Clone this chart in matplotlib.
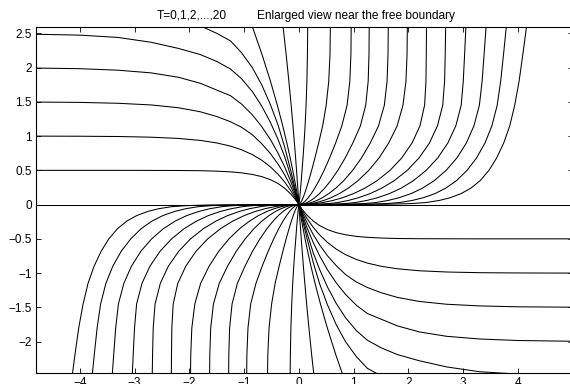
import matplotlib
matplotlib.use("Agg")
import matplotlib.pyplot as plt

plt.rcParams['font.family'] = ['Liberation Sans', 'DejaVu Sans']

# ---- data (upper half of every curve; each curve is odd: (x,y)->(-x,-y)) ----
# Curves T=1..6: y as a function of x on the left side (x<=0), from the left edge to the origin
X_LEFT = [-5.0, -4.0, -3.3, -2.7, -2.2, -1.8, -1.5, -1.25, -1.05, -0.85, -0.68, -0.52, -0.38, -0.26, -0.15, -0.07, 0.0]
Y_T1 = [0.5, 0.5, 0.5, 0.499, 0.498, 0.495, 0.488, 0.478, 0.464, 0.44, 0.409, 0.364, 0.307, 0.239, 0.156, 0.08, 0.0]
Y_T2 = [1.0, 0.998, 0.994, 0.984, 0.966, 0.937, 0.90, 0.854, 0.801, 0.73, 0.649, 0.551, 0.443, 0.33, 0.206, 0.102, 0.0]
Y_T3 = [1.498, 1.492, 1.479, 1.455, 1.414, 1.355, 1.286, 1.21, 1.13, 1.02, 0.89, 0.745, 0.59, 0.435, 0.268, 0.131, 0.0]
Y_T4 = [1.995, 1.984, 1.962, 1.923, 1.859, 1.771, 1.672, 1.59, 1.47, 1.31, 1.14, 0.95, 0.75, 0.55, 0.34, 0.165, 0.0]
Y_T5 = [2.49, 2.474, 2.44, 2.37, 2.28, 2.19, 2.09, 1.98, 1.84, 1.65, 1.44, 1.20, 0.95, 0.70, 0.42, 0.20, 0.0]
Y_T6 = [2.99, 2.97, 2.93, 2.86, 2.75, 2.61, 2.50, 2.39, 2.22, 2.00, 1.75, 1.46, 1.16, 0.84, 0.50, 0.24, 0.0]

# Curves T=7..20: x as a function of y on the upper side (y>=0), from the origin upwards
Y_UP = [0.0, 0.005, 0.015, 0.03, 0.06, 0.1, 0.16, 0.24, 0.35, 0.5, 0.68, 0.9, 1.15, 1.45, 1.8, 2.2, 2.62, 3.0]
X_T7 = [0.0, -0.001, -0.003, -0.006, -0.012, -0.021, -0.033, -0.051, -0.076, -0.112, -0.159, -0.22, -0.295, -0.393, -0.519, -0.677, -0.86, -1.04]
X_T8 = [0.0, 0.0, -0.001, -0.002, -0.005, -0.008, -0.013, -0.02, -0.03, -0.043, -0.06, -0.082, -0.108, -0.141, -0.183, -0.234, -0.292, -0.348]
X_T9 = [0.0, 0.002, 0.004, 0.006, 0.01, 0.015, 0.022, 0.031, 0.043, 0.057, 0.075, 0.094, 0.113, 0.131, 0.146, 0.156, 0.161, 0.163]
X_T10 = [0.0, 0.013, 0.024, 0.035, 0.054, 0.076, 0.104, 0.137, 0.179, 0.233, 0.292, 0.361, 0.434, 0.498, 0.545, 0.568, 0.575, 0.577]
X_T11 = [0.0, 0.032, 0.058, 0.085, 0.127, 0.17, 0.226, 0.29, 0.367, 0.46, 0.56, 0.671, 0.784, 0.88, 0.93, 0.95, 0.955, 0.956]
X_T12 = [0.0, 0.059, 0.105, 0.151, 0.219, 0.289, 0.375, 0.47, 0.582, 0.711, 0.845, 0.985, 1.123, 1.22, 1.265, 1.28, 1.284, 1.285]
X_T13 = [0.0, 0.092, 0.16, 0.229, 0.327, 0.427, 0.545, 0.674, 0.819, 0.981, 1.142, 1.304, 1.454, 1.56, 1.61, 1.627, 1.632, 1.633]
X_T14 = [0.0, 0.129, 0.225, 0.319, 0.452, 0.584, 0.738, 0.90, 1.08, 1.276, 1.462, 1.64, 1.794, 1.90, 1.955, 1.975, 1.98, 1.981]
X_T15 = [0.0, 0.18, 0.312, 0.44, 0.62, 0.795, 0.997, 1.205, 1.429, 1.664, 1.877, 2.066, 2.211, 2.295, 2.32, 2.326, 2.33, 2.333]
X_T16 = [0.0, 0.371, 0.552, 0.704, 0.90, 1.086, 1.299, 1.513, 1.741, 1.978, 2.193, 2.384, 2.53, 2.626, 2.66, 2.672, 2.68, 2.687]
X_T17 = [0.0, 0.611, 0.847, 1.027, 1.237, 1.433, 1.652, 1.867, 2.093, 2.324, 2.534, 2.72, 2.865, 2.963, 3.001, 3.026, 3.05, 3.068]
X_T18 = [0.0, 0.895, 1.195, 1.404, 1.626, 1.827, 2.047, 2.257, 2.472, 2.688, 2.884, 3.058, 3.196, 3.295, 3.345, 3.382, 3.42, 3.447]
X_T19 = [0.0, 1.226, 1.596, 1.835, 2.066, 2.269, 2.483, 2.681, 2.878, 3.07, 3.243, 3.398, 3.524, 3.62, 3.684, 3.737, 3.79, 3.828]
X_T20 = [0.0, 1.6, 2.05, 2.32, 2.56, 2.76, 2.96, 3.14, 3.31, 3.47, 3.61, 3.74, 3.85, 3.94, 4.02, 4.09, 4.16, 4.21]

LEFT_CURVES = [Y_T1, Y_T2, Y_T3, Y_T4, Y_T5, Y_T6]
UP_CURVES = [X_T7, X_T8, X_T9, X_T10, X_T11, X_T12, X_T13, X_T14,
             X_T15, X_T16, X_T17, X_T18, X_T19, X_T20]

X_TICKS = [-4, -3, -2, -1, 0, 1, 2, 3, 4, 5]
X_TICK_LABELS = ['\u22124', '\u22123', '\u22122', '\u22121', '0', '1', '2', '3', '4', '5']
Y_TICKS = [-2, -1.5, -1, -0.5, 0, 0.5, 1, 1.5, 2, 2.5]
Y_TICK_LABELS = ['\u22122', '\u22121.5', '\u22121', '\u22120.5', '0', '0.5', '1', '1.5', '2', '2.5']
TITLE_LEFT = 'T=0,1,2,...,20'
TITLE_RIGHT = 'Enlarged view near the free boundary'


def odd_left(xs, ys):
    """xs,ys run from the far left to the origin; append the point-mirrored half."""
    fx = list(xs) + [-v for v in reversed(xs)]
    fy = list(ys) + [-v for v in reversed(ys)]
    return fx, fy


def odd_up(xs, ys):
    """xs,ys run from the origin upwards; prepend the point-mirrored half."""
    fx = [-v for v in reversed(xs)] + list(xs)
    fy = [-v for v in reversed(ys)] + list(ys)
    return fx, fy


W, H = 570, 384
fig = plt.figure(figsize=(W / 100, H / 100), dpi=100)
ax = fig.add_axes([36 / W, (H - 372.7) / H, 536.75 / W, (372.7 - 26.7) / H])

lw = 0.75
# T = 0 : the horizontal line through the origin
ax.plot([-6, 6], [0, 0], color='k', lw=lw)
for ys in LEFT_CURVES:
    fx, fy = odd_left(X_LEFT, ys)
    ax.plot(fx, fy, color='k', lw=lw)
for xs in UP_CURVES:
    fx, fy = odd_up(xs, Y_UP)
    ax.plot(fx, fy, color='k', lw=lw)

ax.set_xlim(-4.8, 5.0)
ax.set_ylim(-2.454, 2.597)
ax.set_xticks(X_TICKS)
ax.set_xticklabels(X_TICK_LABELS)
ax.set_yticks(Y_TICKS)
ax.set_yticklabels(Y_TICK_LABELS)
ax.tick_params(direction='in', top=True, right=True, length=3.8, width=0.6,
               labelsize=8.5, pad=3, colors='k')
for sp in ax.spines.values():
    sp.set_linewidth(0.8)
    sp.set_color('k')

fig.text(157 / W, 1 - 15.5 / H, TITLE_LEFT, ha='left', va='center', fontsize=8.6)
fig.text(257 / W, 1 - 15.5 / H, TITLE_RIGHT, ha='left', va='center', fontsize=8.6)

fig.savefig('out.png', dpi=100)
